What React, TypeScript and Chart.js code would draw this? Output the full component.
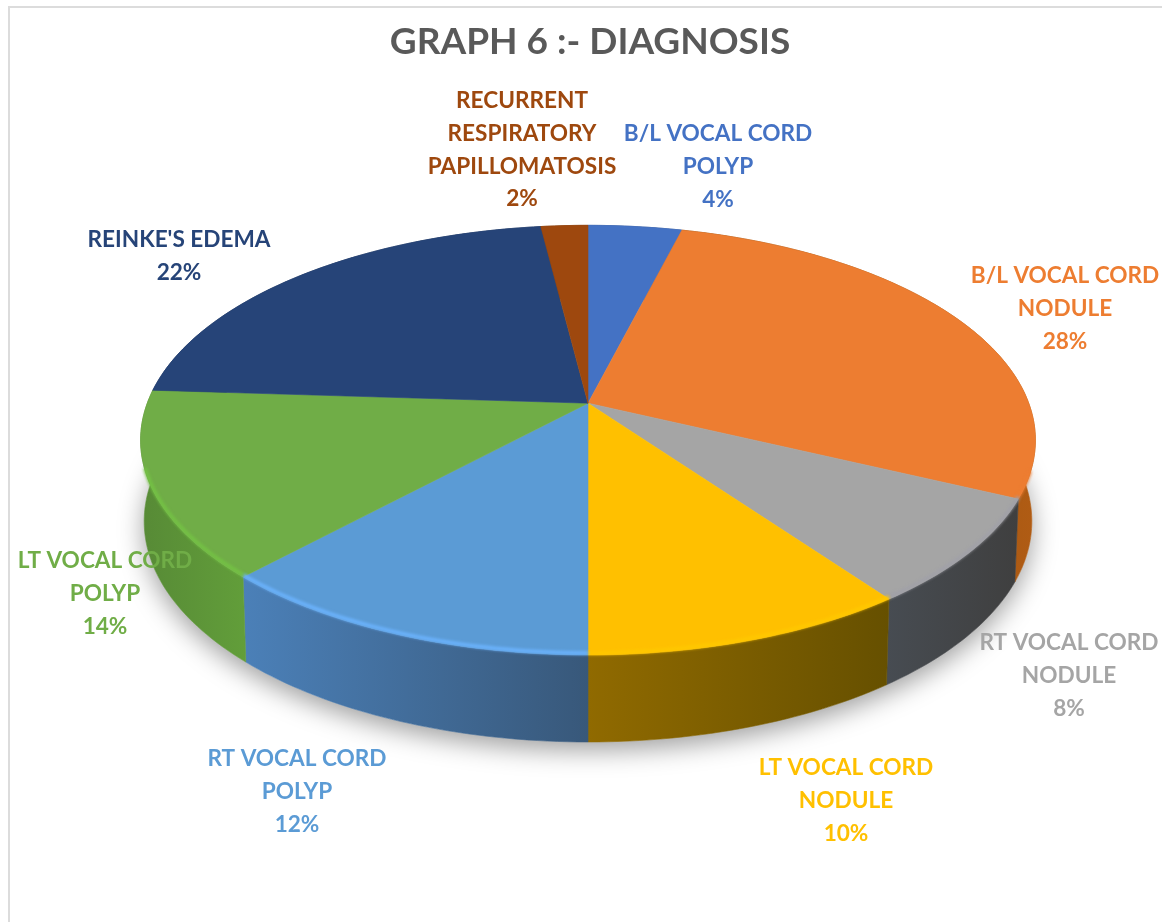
import React, { useEffect, useRef } from "react";
import { Chart, registerables } from "chart.js";

Chart.register(...registerables);

const CHART_TITLE = "GRAPH 6 :- DIAGNOSIS";
const CATEGORIES = [
  "B/L VOCAL CORD POLYP",
  "B/L VOCAL CORD NODULE",
  "RT VOCAL CORD NODULE",
  "LT VOCAL CORD NODULE",
  "RT VOCAL CORD POLYP",
  "LT VOCAL CORD POLYP",
  "REINKE'S EDEMA",
  "RECURRENT RESPIRATORY PAPILLOMATOSIS",
];
const PERCENTAGES = [4, 28, 8, 10, 12, 14, 22, 2];
const LABEL_LINES = [
  ["B/L VOCAL CORD", "POLYP"],
  ["B/L VOCAL CORD", "NODULE"],
  ["RT VOCAL CORD", "NODULE"],
  ["LT VOCAL CORD", "NODULE"],
  ["RT VOCAL CORD", "POLYP"],
  ["LT VOCAL CORD", "POLYP"],
  ["REINKE'S EDEMA"],
  ["RECURRENT", "RESPIRATORY", "PAPILLOMATOSIS"],
];
const TOP_COLORS = ["#4472c4", "#ed7d31", "#a5a5a5", "#ffc000", "#5b9bd5", "#70ad47", "#264478", "#9e480e"];
const WALL_LEFT = ["#2f4f88", "#7f4409", "#474c52", "#906a00", "#4b80b8", "#578a36", "#1a2f54", "#6e3209"];
const WALL_RIGHT = ["#2f4f88", "#b05c14", "#3f3f3f", "#665000", "#38587a", "#629e3a", "#1a2f54", "#6e3209"];
const EDGE_LIGHT = ["#4472c4", "#ed7d31", "#a0a0a8", "#ffc800", "#6cb4ff", "#74c344", "#264478", "#9e480e"];

// Label placement: centre x and first-line centre y.
const LABEL_ANCHORS = [
  [718, 134], [1065, 276], [1069, 643], [846, 768],
  [297, 759], [105, 561], [179, 240], [522, 101],
];
const LINE_STEP = 32.7;
const LABEL_FONT = "bold 22.6px Lato";

// View of the tilted disc, relative to the library's own pie radius.
const VIEW_RX = 441 / 333;
const VIEW_RY = 208.6 / 333;
const VIEW_SHIFT_X = -2;
const PERSPECTIVE = 0.172;
const DEPTH_SIDE = 80;
const DEPTH_FRONT = 7;
const BOTTOM_SHRINK = 0.992;
const HIGHLIGHT_FROM = 0.3;

function project(arc: any, angle: number, bottom: boolean): [number, number] {
  const u = Math.cos(angle);
  const v = Math.sin(angle);
  const w = 1 - PERSPECTIVE * v;
  let x = (VIEW_RX * arc.outerRadius * u) / w;
  let y = (VIEW_RY * arc.outerRadius * v) / w;
  if (bottom) {
    x *= BOTTOM_SHRINK;
    y += DEPTH_SIDE + DEPTH_FRONT * v;
  }
  return [arc.x + VIEW_SHIFT_X + x, arc.y + y];
}

function samples(arc: any): number[] {
  const n = Math.max(6, Math.ceil(((arc.endAngle - arc.startAngle) / Math.PI) * 160));
  const out: number[] = [];
  for (let i = 0; i <= n; i++) out.push(arc.startAngle + ((arc.endAngle - arc.startAngle) * i) / n);
  return out;
}

const pie3d = {
  id: "pie3d",
  beforeDatasetsDraw(chart: any) {
    const ctx = chart.ctx as CanvasRenderingContext2D;
    const arcs = chart.getDatasetMeta(0).data as any[];
    const first = arcs[0];

    // soft ground shadow
    ctx.save();
    ctx.shadowColor = "rgba(0,0,0,0.38)";
    ctx.shadowBlur = 26;
    ctx.shadowOffsetY = 8;
    ctx.fillStyle = "#ffffff";
    ctx.beginPath();
    for (let i = 0; i <= 360; i++) {
      const [x, y] = project(first, (i / 180) * Math.PI, true);
      if (i === 0) ctx.moveTo(x, y);
      else ctx.lineTo(x, y);
    }
    ctx.closePath();
    ctx.fill();
    ctx.restore();

    // side walls
    arcs.forEach((arc, i) => {
      const angles = samples(arc);
      const tops = angles.map((a) => project(arc, a, false));
      const bots = angles.map((a) => project(arc, a, true));
      const xs = tops.concat(bots).map((p) => p[0]);
      const g = ctx.createLinearGradient(Math.min(...xs), 0, Math.max(...xs), 0);
      g.addColorStop(0, WALL_LEFT[i]);
      g.addColorStop(1, WALL_RIGHT[i]);
      ctx.fillStyle = g;
      ctx.strokeStyle = g;
      ctx.lineWidth = 0.6;
      ctx.beginPath();
      tops.forEach(([x, y], k) => (k === 0 ? ctx.moveTo(x, y) : ctx.lineTo(x, y)));
      bots.reverse().forEach(([x, y]) => ctx.lineTo(x, y));
      ctx.closePath();
      ctx.fill();
      ctx.stroke();
    });

    // top faces
    arcs.forEach((arc, i) => {
      ctx.fillStyle = TOP_COLORS[i];
      ctx.strokeStyle = TOP_COLORS[i];
      ctx.lineWidth = 0.6;
      ctx.beginPath();
      ctx.moveTo(arc.x + VIEW_SHIFT_X, arc.y);
      samples(arc).forEach((a) => {
        const [x, y] = project(arc, a, false);
        ctx.lineTo(x, y);
      });
      ctx.closePath();
      ctx.fill();
      ctx.stroke();
    });

    // bevel highlight along the front rim
    ctx.save();
    ctx.filter = "blur(1.4px)";
    arcs.forEach((arc, i) => {
      const front = samples(arc).filter((a) => Math.sin(a) > HIGHLIGHT_FROM);
      if (!front.length) return;
      ctx.strokeStyle = EDGE_LIGHT[i];
      ctx.lineWidth = 3.5;
      ctx.beginPath();
      front.forEach((a, k) => {
        const [x, y] = project(arc, a, false);
        if (k === 0) ctx.moveTo(x, y - 2);
        else ctx.lineTo(x, y - 2);
      });
      ctx.stroke();
    });
    ctx.restore();

    return false;
  },
  afterDraw(chart: any) {
    const ctx = chart.ctx as CanvasRenderingContext2D;
    ctx.save();
    ctx.font = LABEL_FONT;
    ctx.textAlign = "center";
    ctx.textBaseline = "middle";
    CATEGORIES.forEach((_, i) => {
      const lines = [...LABEL_LINES[i], `${PERCENTAGES[i]}%`];
      ctx.fillStyle = TOP_COLORS[i];
      lines.forEach((line, k) => {
        ctx.fillText(line, LABEL_ANCHORS[i][0], LABEL_ANCHORS[i][1] + k * LINE_STEP);
      });
    });
    ctx.restore();
  },
};

export default function App() {
  const ref = useRef<HTMLCanvasElement>(null);
  useEffect(() => {
    document.body.style.margin = "0";
    const chart = new Chart(ref.current as HTMLCanvasElement, {
      type: "pie",
      data: {
        labels: CATEGORIES,
        datasets: [{ data: PERCENTAGES, backgroundColor: TOP_COLORS, borderWidth: 0 }],
      },
      options: {
        responsive: false,
        animation: false,
        layout: { padding: { left: 18, right: 0, top: 0, bottom: 186 } },
        plugins: {
          legend: { display: false },
          tooltip: { enabled: false },
          title: {
            display: true,
            text: CHART_TITLE,
            color: "#595959",
            font: { family: "Lato", size: 37, weight: "bold" },
            padding: { top: 20, bottom: 6 },
          },
        },
      },
      plugins: [pie3d],
    } as any);
    return () => chart.destroy();
  }, []);
  return (
    <div style={{ position: "relative", width: 1162, height: 922, background: "#fff", overflow: "hidden" }}>
      <div style={{ position: "absolute", left: 8, top: 6, right: 0, bottom: 0, borderLeft: "2px solid #dcdcdc", borderTop: "2px solid #dcdcdc" }} />
      <canvas ref={ref} width={1162} height={922} style={{ position: "absolute", left: 0, top: 0, display: "block" }} />
    </div>
  );
}
